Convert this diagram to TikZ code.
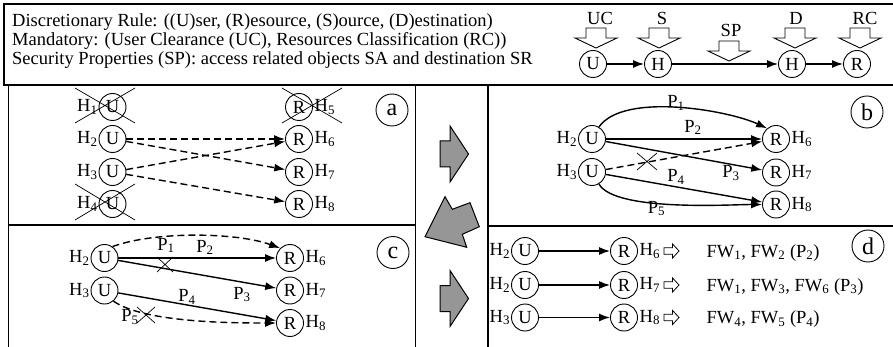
\documentclass[tikz,border=0pt]{standalone}
\usepackage{fontspec}
\setmainfont{Liberation Serif}
\usetikzlibrary{arrows.meta}
\newcommand{\lowidx}[1]{\textsubscript{#1}}
\definecolor{arrowgray}{RGB}{150,150,150}

\tikzset{
  every node/.style={font=\fontsize{18.5}{20}\selectfont, inner sep=1pt},
  vx/.style={circle, draw, line width=0.9pt, minimum size=27pt, inner sep=0pt},
  lblL/.style={anchor=east, inner sep=0.8pt},
  lblR/.style={anchor=west, inner sep=1.5pt},
  tag/.style={circle, draw, line width=0.9pt, minimum size=32pt, inner sep=0pt,
              font=\fontsize{24}{24}\selectfont},
  plab/.style={anchor=base, inner sep=0pt},
  link/.style={line width=1.4pt, -{Latex[length=11pt,width=8pt]}},
  dlink/.style={link, dash pattern=on 7pt off 4pt},
  hframe/.style={line width=1.6pt},
  pframe/.style={line width=1.2pt},
  strike/.style={line width=0.7pt},
  dnarrow/.pic={\draw[line width=0.9pt, fill=white]
     (-10,0) -- (10,0) -- (10,10) -- (21,10) -- (0,20) -- (-21,10) -- (-10,10) -- cycle;},
  openright/.pic={\draw[line width=0.8pt, fill=white]
     (0,-3.3) -- (8.4,-3.3) -- (8.4,-7.2) -- (15,0) -- (8.4,7.2) -- (8.4,3.3) -- (0,3.3) -- cycle;},
  grayright/.pic={\draw[line width=1pt, fill=arrowgray, line join=miter]
     (0,-13) -- (10,-13) -- (10,-28) -- (28.5,0) -- (10,28) -- (10,13) -- (0,13) -- cycle;},
}

\begin{document}
\begin{tikzpicture}[x=1pt, y=-1pt]
\useasboundingbox (0,0) rectangle (893,347);

% ---------- header box ----------
\draw[hframe] (894,4) -- (4,4) -- (4,85) -- (894,85);
\node[anchor=base west, inner sep=0pt] (t1) at (12,26.5)
  {Discretionary Rule: ((U)ser, (R)esource, (S)ource, (D)estination)};
\node[anchor=base west, inner sep=0pt] (t2) at (12,45.5)
  {Mandatory: (User Clearance (UC), Resources Classification (RC))};
\node[anchor=base west, inner sep=0pt] (t3) at (12,64.5)
  {Security Properties (SP): access related objects SA and destination SR};

% header chain
\node[vx] (lu)  at (593,64) {U};
\node[vx] (lh1) at (658,64) {H};
\node[vx] (lh2) at (792,64) {H};
\node[vx] (lr)  at (857,64) {R};
\draw[link] (lu) -- (lh1);
\draw[link] (lh1) -- (lh2);
\draw[link] (lh2) -- (lr);
\pic at (596,28) {dnarrow};
\pic at (659,28) {dnarrow};
\pic at (729,41) {dnarrow};
\pic at (795,28) {dnarrow};
\pic at (860,28) {dnarrow};
\node[plab] (kuc) at (600,25) {UC};
\node[plab] (ks)  at (662,25) {S};
\node[plab] (ksp) at (731,36.5) {SP};
\node[plab] (kd)  at (796,25) {D};
\node[plab] (krc) at (865,25) {RC};

% ---------- panel frames ----------
\draw[pframe] (8.7,85) -- (8.7,348);
\draw[pframe] (415.5,85) -- (415.5,348);
\draw[pframe] (488,85) -- (488,348);
\draw[pframe] (8.7,225) -- (415.5,225);
\draw[pframe] (488,226) -- (894,226);

% ---------- transition arrows ----------
\pic at (440,154) {grayright};
\pic at (440,298.5) {grayright};
\draw[line width=1pt, fill=arrowgray]
  (425,236.7) -- (445,196.7) -- (452.3,209.3) -- (470,202.7) -- (479.3,226.7)
  -- (462.3,234.3) -- (466.7,247.3) -- cycle;

% ---------- panel a ----------
\node[tag] (ta) at (392,110) {a};
\foreach \i/\y in {1/107,2/139,3/172,4/204}{
  \node[vx] (au\i) at (112.5,\y) {U};
  \node[lblL] (ah\i) at (au\i.west) {H\lowidx{\i}};
}
\foreach \i/\y in {5/107,6/139,7/172,8/204}{
  \node[vx] (ar\i) at (299,\y) {R};
  \node[lblR] (ah\i) at (ar\i.east) {H\lowidx{\i}};
}
\draw[strike] (75,88) -- (135,123) (135,88) -- (75,123);
\draw[strike] (75,184) -- (135,220) (135,184) -- (75,220);
\draw[strike] (282,88) -- (342,123) (342,88) -- (282,123);
\draw[dlink] (au2) -- (ar6);
\draw[dlink] (au2) -- (ar7);
\draw[dlink] (au3) -- (ar6);
\draw[dlink] (au3) -- (ar8);

% ---------- panel b ----------
\node[tag] (tb) at (867,112) {b};
\node[vx] (bu2) at (592,139) {U};
\node[vx] (bu3) at (592,172) {U};
\node[lblL] (bh2) at (bu2.west) {H\lowidx{2}};
\node[lblL] (bh3) at (bu3.west) {H\lowidx{3}};
\foreach \i/\y in {6/139,7/172.5,8/204.5}{
  \node[vx] (br\i) at (776,\y) {R};
  \node[lblR] (bh\i) at (br\i.east) {H\lowidx{\i}};
}
\draw[link] (bu2.60) to[out=55, in=155, looseness=0.65] (br6.130);
\draw[link] (bu2) -- (br6);
\draw[link] (bu2) -- (br7);
\draw[dlink] (bu3) -- (br6);
\draw[link] (bu3) -- (br8);
\draw[link] (bu3.-60) to[out=-60, in=180, looseness=0.5] (br8.west);
\draw[strike] (637,153) -- (657,170) (657,153) -- (637,170);
\node[plab] (bp1) at (676,107.5) {P\lowidx{1}};
\node[plab] (bp2) at (693,132.3) {P\lowidx{2}};
\node[plab] (bp3) at (731,177.7) {P\lowidx{3}};
\node[plab] (bp4) at (676,181.7) {P\lowidx{4}};
\node[plab] (bp5) at (656.5,213.3) {P\lowidx{5}};

% ---------- panel c ----------
\node[tag] (tc) at (393,252.5) {c};
\node[vx] (cu2) at (104.5,258) {U};
\node[vx] (cu3) at (104.5,290.5) {U};
\node[lblL] (ch2) at (cu2.west) {H\lowidx{2}};
\node[lblL] (ch3) at (cu3.west) {H\lowidx{3}};
\foreach \i/\y in {6/258,7/290.5,8/323}{
  \node[vx] (cr\i) at (290,\y) {R};
  \node[lblR] (ch\i) at (cr\i.east) {H\lowidx{\i}};
}
\draw[dlink] (cu2.55) to[out=20, in=160, looseness=0.7] (cr6.135);
\draw[link] (cu2) -- (cr6);
\draw[link] (cu2) -- (cr7);
\draw[link] (cu3) -- (cr8);
\draw[dlink] (cu3.-50) to[out=-35, in=180, looseness=0.6] (cr8.west);
\draw[strike] (157,257) -- (173,272) (173,257) -- (157,272);
\draw[strike] (137,307) -- (155,323) (155,307) -- (137,323);
\node[plab] (cp1) at (166,250) {P\lowidx{1}};
\node[plab] (cp2) at (205,252.3) {P\lowidx{2}};
\node[plab] (cp3) at (242,299) {P\lowidx{3}};
\node[plab] (cp4) at (187,301.7) {P\lowidx{4}};
\node[plab] (cp5) at (130,321.7) {P\lowidx{5}};

% ---------- panel d ----------
\node[tag] (td) at (868,246) {d};
\foreach \r/\y/\hs/\hd/\fw in {1/251/2/6/{FW\lowidx{1}, FW\lowidx{2} (P\lowidx{2})},
                               2/285/2/7/{FW\lowidx{1}, FW\lowidx{3}, FW\lowidx{6} (P\lowidx{3})},
                               3/317.5/3/8/{FW\lowidx{4}, FW\lowidx{5} (P\lowidx{4})}}{
  \node[vx] (du\r) at (525,\y) {U};
  \node[vx] (dr\r) at (624,\y) {R};
  \node[lblL] (dhs\r) at (du\r.west) {H\lowidx{\hs}};
  \node[lblR] (dhd\r) at (dr\r.east) {H\lowidx{\hd}};
  \draw[link] (du\r) -- (dr\r);
  \pic at (664,\y) {openright};
  \node[anchor=base west, inner sep=0pt] (dfw\r) at (706.5,\y+6) {\fw};
}
\end{tikzpicture}
\end{document}
